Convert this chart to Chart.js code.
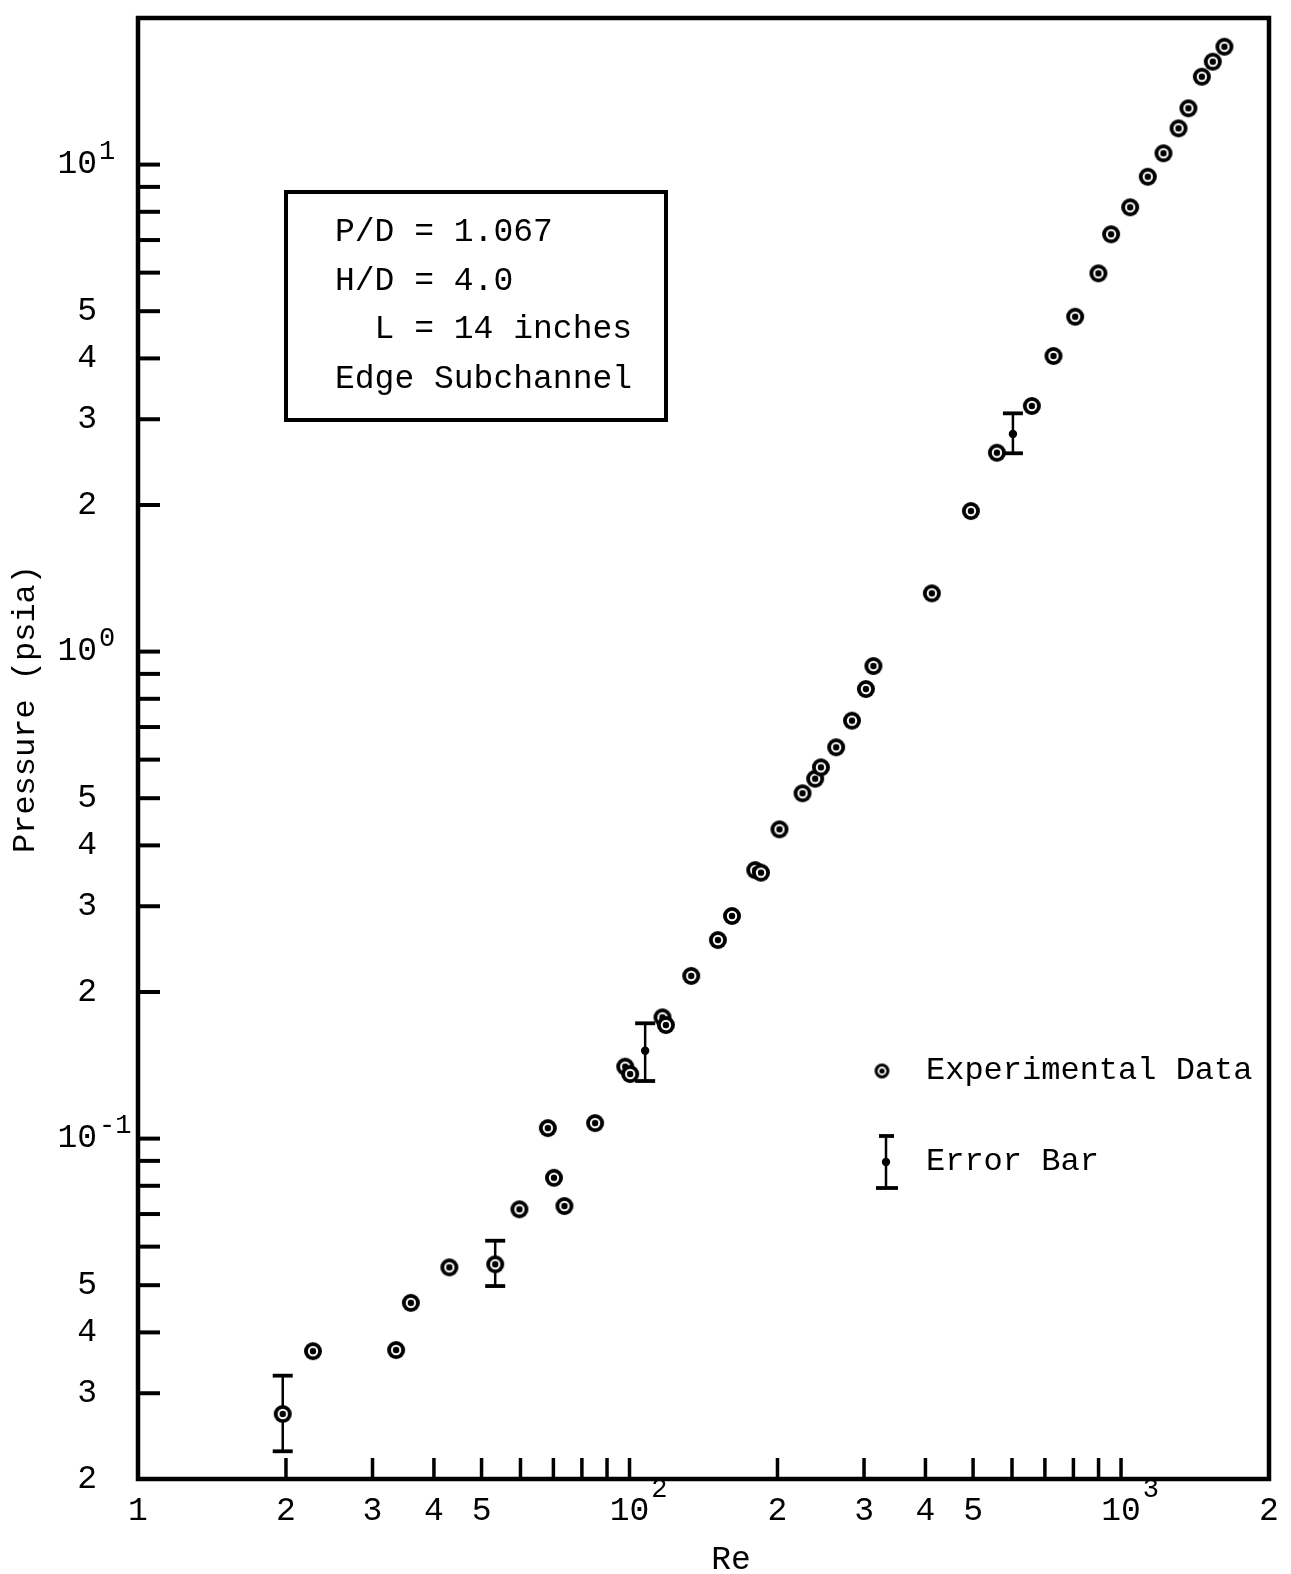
<!DOCTYPE html>
<html>
<head>
<meta charset="utf-8">
<script src="https://cdn.jsdelivr.net/npm/chart.js@4.4.1/dist/chart.umd.min.js"></script>
<style>
html,body{margin:0;padding:0;background:#ffffff;}
canvas{display:block;}
</style>
</head>
<body>
<canvas id="c" width="1291" height="1574"></canvas>
<script>
// ---- data ----
const circleRe = [19.7, 22.7, 33.5, 35.9, 43.0, 53.3, 59.7, 68.2, 70.2, 73.7, 85.1, 98.0, 100.3, 116.7, 118.6, 133.5, 151.3, 161.6, 180.2, 185.1, 201.9, 224.9, 238.6, 245.1, 263.3, 283.5, 302.6, 313.5, 412.2, 495, 559, 658.5, 728.6, 806.6, 899.5, 954.5, 1043.5, 1133.6, 1220, 1309, 1371, 1460, 1537, 1623];
const circleP = [0.0272, 0.0366, 0.0368, 0.0460, 0.0544, 0.0552, 0.0716, 0.1051, 0.0831, 0.0727, 0.1076, 0.1405, 0.1357, 0.1774, 0.1711, 0.2158, 0.2557, 0.2865, 0.3559, 0.3516, 0.4316, 0.5117, 0.5483, 0.5786, 0.6362, 0.7214, 0.8379, 0.9341, 1.317, 1.944, 2.561, 3.194, 4.046, 4.872, 5.981, 7.193, 8.173, 9.443, 10.55, 11.87, 13.05, 15.15, 16.27, 17.46];

const errRe   = [19.7, 53.3, 107.6, 602.6];
const errP    = [0.0272, 0.0552, 0.1515, 2.798];
const errLow  = [0.0228, 0.0498, 0.1313, 2.554];
const errHigh = [0.0326, 0.0617, 0.1725, 3.085];

const xTickValues = [10,20,30,40,50,60,70,80,90,100,200,300,400,500,600,700,800,900,1000,2000];
const xTickLabels = ['1','2','3','4','5','','','','','10','2','3','4','5','','','','','10','2'];
const xTickExp    = ['','','','','','','','','','2','','','','','','','','','3',''];

const yTickValues = [0.02,0.03,0.04,0.05,0.06,0.07,0.08,0.09,0.1,0.2,0.3,0.4,0.5,0.6,0.7,0.8,0.9,1,2,3,4,5,6,7,8,9,10,20];
const yTickLabels = ['2','3','4','5','','','','','10','2','3','4','5','','','','','10','2','3','4','5','','','','','10',''];
const yTickExp    = ['','','','','','','','','-1','','','','','','','','','0','','','','','','','','','1',''];

const boxLines = ['P/D = 1.067', 'H/D = 4.0', 'L = 14 inches', 'Edge Subchannel'];
const boxIndent = [0, 0, 2, 0];
const legendLabels = ['Experimental Data', 'Error Bar'];
const xTitle = 'Re';
const yTitle = 'Pressure (psia)';

// ---- drawing ----
const FONT = "'Liberation Mono', 'DejaVu Sans Mono', monospace";
const INK = '#000000';

function markerCanvas(outerR, ring, dotR) {
  const s = Math.ceil(outerR * 2 + 2);
  const c = document.createElement('canvas');
  c.width = s; c.height = s;
  const g = c.getContext('2d');
  const m = s / 2;
  g.beginPath(); g.arc(m, m, outerR, 0, Math.PI * 2); g.fillStyle = INK; g.fill();
  g.beginPath(); g.arc(m, m, outerR - ring, 0, Math.PI * 2); g.fillStyle = '#ffffff'; g.fill();
  g.beginPath(); g.arc(m, m, dotR, 0, Math.PI * 2); g.fillStyle = INK; g.fill();
  return c;
}
const dataMarker = markerCanvas(9.0, 3.8, 3.2);

function line(ctx, x1, y1, x2, y2) {
  ctx.beginPath(); ctx.moveTo(x1, y1); ctx.lineTo(x2, y2); ctx.stroke();
}

const decorPlugin = {
  id: 'decor',
  beforeDatasetsDraw(chart) {
    const ctx = chart.ctx, xs = chart.scales.x, ys = chart.scales.y;
    ctx.save();
    ctx.strokeStyle = INK;
    errRe.forEach((re, i) => {
      const px = xs.getPixelForValue(re);
      const pLo = ys.getPixelForValue(errLow[i]);
      const pHi = ys.getPixelForValue(errHigh[i]);
      ctx.lineWidth = 2.5; ctx.lineCap = 'butt';
      line(ctx, px, pLo, px, pHi);
      ctx.lineWidth = 3.8;
      line(ctx, px - 10, pLo, px + 10, pLo);
      line(ctx, px - 10, pHi, px + 10, pHi);
    });
    ctx.restore();
  },
  afterDraw(chart) {
    const ctx = chart.ctx, xs = chart.scales.x, ys = chart.scales.y, ca = chart.chartArea;
    ctx.save();
    ctx.strokeStyle = INK; ctx.fillStyle = INK;

    // frame
    ctx.lineWidth = 4.5;
    ctx.strokeRect(ca.left, ca.top, ca.right - ca.left, ca.bottom - ca.top);

    // inward tick marks
    ctx.lineWidth = 3.5;
    xTickValues.forEach(v => {
      if (v <= xs.min || v >= xs.max) return;
      const px = xs.getPixelForValue(v);
      line(ctx, px, ca.bottom, px, ca.bottom - 21);
    });
    ctx.lineWidth = 4;
    yTickValues.forEach(v => {
      if (v <= ys.min * 1.0001 || v >= ys.max * 0.9999) return;
      const py = ys.getPixelForValue(v);
      line(ctx, ca.left, py, ca.left + 22, py);
    });

    // exponents of the decade labels
    ctx.textBaseline = 'middle';
    ctx.textAlign = 'left';
    xTickValues.forEach((v, i) => {
      if (!xTickExp[i]) return;
      const px = xs.getPixelForValue(v);
      ctx.font = '33px ' + FONT;
      const w = ctx.measureText(xTickLabels[i]).width;
      ctx.font = '27px ' + FONT;
      ctx.fillText(xTickExp[i], px + w / 2 + 2, ca.bottom + 11);
    });
    yTickValues.forEach((v, i) => {
      if (!yTickExp[i]) return;
      const py = ys.getPixelForValue(v);
      ctx.font = '27px ' + FONT;
      ctx.fillText(yTickExp[i], ca.left - 39, py - 13);
    });

    // parameter box
    ctx.lineWidth = 4;
    ctx.strokeRect(286, 192, 380, 228);
    ctx.font = '33px ' + FONT;
    const adv = ctx.measureText('0').width;
    const boxY = [232, 281, 329, 379];
    boxLines.forEach((t, i) => {
      ctx.fillText(t, 335 + boxIndent[i] * adv, boxY[i]);
    });

    // legend
    const lm = markerCanvas(7.4, 3.0, 2.6);
    ctx.drawImage(lm, 882 - lm.width / 2, 1071 - lm.height / 2);
    ctx.font = '32px ' + FONT;
    ctx.fillText(legendLabels[0], 926, 1071);
    ctx.lineWidth = 2.5;
    line(ctx, 886, 1136, 886, 1188);
    ctx.lineWidth = 3.8;
    line(ctx, 879, 1136, 894, 1136);
    line(ctx, 876, 1188, 898, 1188);
    ctx.beginPath(); ctx.arc(886, 1162, 4.2, 0, Math.PI * 2); ctx.fill();
    ctx.fillText(legendLabels[1], 926, 1162);

    // axis titles
    ctx.font = '33px ' + FONT;
    ctx.textAlign = 'center';
    ctx.fillText(xTitle, 731, 1560);
    ctx.save();
    ctx.translate(26, 709);
    ctx.rotate(-Math.PI / 2);
    ctx.font = '32px ' + FONT;
    ctx.fillText(yTitle, 0, 0);
    ctx.restore();

    ctx.restore();
  }
};

new Chart(document.getElementById('c').getContext('2d'), {
  type: 'scatter',
  data: {
    datasets: [
      {
        label: legendLabels[0],
        data: circleRe.map((x, i) => ({ x: x, y: circleP[i] })),
        pointStyle: dataMarker,
        pointRadius: 9,
        showLine: false
      },
      {
        label: legendLabels[1],
        data: errRe.map((x, i) => ({ x: x, y: errP[i] })),
        pointStyle: 'circle',
        pointRadius: 4.2,
        backgroundColor: INK,
        borderColor: INK,
        borderWidth: 0,
        showLine: false
      }
    ]
  },
  options: {
    responsive: false,
    animation: false,
    devicePixelRatio: 1,
    events: [],
    layout: { padding: { top: 18, right: 22, left: 0, bottom: 0 } },
    plugins: { legend: { display: false }, tooltip: { enabled: false } },
    scales: {
      x: {
        type: 'logarithmic', min: 10, max: 2000, position: 'bottom',
        afterBuildTicks: s => { s.ticks = xTickValues.map(v => ({ value: v })); },
        afterFit: s => { s.height = 95; s.paddingLeft = 0; s.paddingRight = 0; },
        grid: { display: false, drawTicks: false },
        border: { display: false },
        ticks: {
          autoSkip: false, maxRotation: 0, minRotation: 0, padding: 12, color: INK,
          font: { family: FONT, size: 33 },
          callback: (v, i) => xTickLabels[i]
        }
      },
      y: {
        type: 'logarithmic', min: 0.02, max: 20, position: 'left',
        afterBuildTicks: s => { s.ticks = yTickValues.map(v => ({ value: v })); },
        afterFit: s => { s.width = 138; s.paddingTop = 0; s.paddingBottom = 0; },
        grid: { display: false, drawTicks: false },
        border: { display: false },
        ticks: {
          autoSkip: false, padding: 41, color: INK,
          font: { family: FONT, size: 33 },
          callback: (v, i) => yTickLabels[i]
        }
      }
    }
  },
  plugins: [decorPlugin]
});
</script>
</body>
</html>
